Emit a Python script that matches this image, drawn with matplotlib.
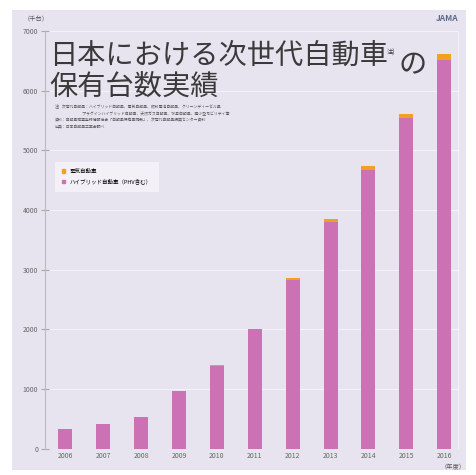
import matplotlib.pyplot as plt
from matplotlib.patches import Rectangle

plt.rcParams['font.family'] = ['Noto Sans CJK JP', 'DejaVu Sans']

# 年度ごとの保有台数（千台）
years = ["2006", "2007", "2008", "2009", "2010", "2011", "2012", "2013", "2014", "2015", "2016"]
hybrid = [335, 420, 535, 970, 1390, 2000, 2830, 3800, 4670, 5540, 6520]
ev = [2, 3, 4, 6, 10, 15, 30, 45, 60, 70, 90]
yticks = [0, 1000, 2000, 3000, 4000, 5000, 6000, 7000]

bg = "#e7e4ef"
pink = "#cc72b4"
orange = "#f0a21e"

fig = plt.figure(figsize=(4.76, 4.75), dpi=100)
fig.patch.set_facecolor("white")
fig.patches.append(Rectangle((0.025, 0.01), 0.955, 0.97, transform=fig.transFigure,
                             facecolor=bg, edgecolor="none", zorder=-1))

ax = fig.add_axes([0.095, 0.055, 0.87, 0.88])
ax.set_facecolor(bg)
x = range(len(years))
ax.bar(x, hybrid, width=0.37, color=pink, zorder=3)
ax.bar(x, ev, width=0.37, bottom=hybrid, color=orange, zorder=3)

ax.set_xlim(-0.53, 10.4)
ax.set_ylim(0, 7000)
ax.set_yticks(yticks)
ax.set_yticklabels([str(v) for v in yticks], fontsize=5, color="#666666")
ax.set_xticks(list(x))
ax.set_xticklabels(years, fontsize=5, color="#666666")
ax.tick_params(axis="y", length=6, direction="inout", color="#aaaaaa", pad=2)
ax.tick_params(axis="x", length=0, pad=2)
ax.grid(axis="y", color="#f4f2f8", linewidth=0.8, zorder=0)
for s in ["top", "right", "bottom"]:
    ax.spines[s].set_visible(False)
ax.spines["left"].set_color("#bbbbbb")
ax.axvline(10.4, color="#f4f2f8", linewidth=1.5, zorder=1)

fig.text(0.05, 0.955, "（千台）", fontsize=4.5, color="#555555")
fig.text(0.925, 0.012, "（年度）", fontsize=4.5, color="#555555")
fig.text(0.915, 0.955, "JAMA", fontsize=6, color="#5a6a8a", fontweight="bold")

fig.text(0.103, 0.783, "日本における次世代自動車\n保有台数実績",
         fontsize=20.3, color="#3a3a3a", linespacing=1.1, va="bottom")
fig.text(0.812, 0.885, "注)", fontsize=4.5, color="#3a3a3a")
fig.text(0.838, 0.845, "の", fontsize=20.3, color="#3a3a3a")

notes = ("注）次世代自動車：ハイブリッド自動車、電気自動車、燃料電池自動車、クリーンディーゼル車\n"
         "　　　　　　　プラグインハイブリッド自動車、天然ガス自動車、水素自動車、超小型モビリティ等\n"
         "資料：自動車検査登録情報協会「自動車保有車両数」、次世代自動車振興センター資料\n"
         "出典：日本自動車工業会調べ")
fig.text(0.115, 0.78, notes, fontsize=2.8, color="#555555", linespacing=1.7, va="top")

leg = ax.legend([Rectangle((0, 0), 1, 1, color=orange), Rectangle((0, 0), 1, 1, color=pink)],
                ["電気自動車", "ハイブリッド自動車（PHV含む）"],
                loc="upper left", bbox_to_anchor=(0.02, 0.69), fontsize=4,
                frameon=True, facecolor="#f3f1f7", edgecolor="none", framealpha=1,
                handlelength=0.6, handleheight=0.6, borderpad=1.0, labelspacing=0.9)
leg.get_frame().set_boxstyle("square")

fig.savefig("out.png", dpi=100, facecolor=fig.get_facecolor())
